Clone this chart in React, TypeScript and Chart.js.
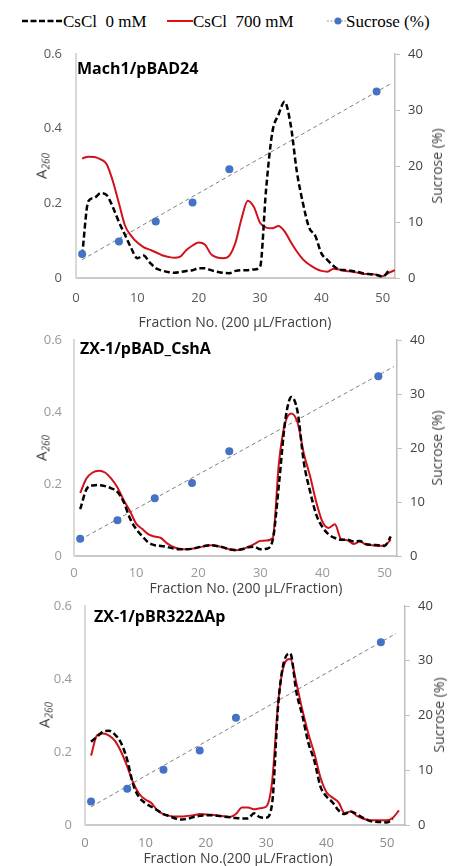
import React, { useEffect, useRef } from "react";
import { Chart, registerables } from "chart.js";

Chart.register(...registerables);

// ---------- DATA ----------
// A260 values per fraction (fraction 1, 2, 3, ...)
const p1Cs0 = [0.06, 0.205, 0.215, 0.227, 0.222, 0.19, 0.15, 0.115, 0.08, 0.053, 0.06, 0.042, 0.026, 0.02, 0.016, 0.014, 0.016, 0.019, 0.021, 0.026, 0.026, 0.021, 0.017, 0.014, 0.013, 0.019, 0.021, 0.021, 0.023, 0.03, 0.24, 0.39, 0.437, 0.472, 0.41, 0.285, 0.2, 0.135, 0.113, 0.066, 0.048, 0.032, 0.022, 0.021, 0.019, 0.016, 0.012, 0.01, 0.008, 0.004, 0.02];
const p1Cs700 = [0.32, 0.325, 0.324, 0.318, 0.305, 0.26, 0.2, 0.14, 0.113, 0.095, 0.083, 0.076, 0.069, 0.061, 0.057, 0.054, 0.057, 0.075, 0.087, 0.095, 0.09, 0.064, 0.055, 0.053, 0.06, 0.095, 0.16, 0.207, 0.19, 0.148, 0.135, 0.133, 0.139, 0.125, 0.097, 0.071, 0.05, 0.036, 0.026, 0.019, 0.017, 0.025, 0.022, 0.019, 0.017, 0.014, 0.011, 0.011, 0.009, 0.005, 0.014, 0.021];

const p2Cs0 = [0.13, 0.185, 0.196, 0.197, 0.194, 0.188, 0.178, 0.15, 0.105, 0.075, 0.055, 0.037, 0.03, 0.028, 0.025, 0.021, 0.019, 0.0185, 0.02, 0.024, 0.028, 0.03, 0.028, 0.024, 0.0185, 0.017, 0.0185, 0.024, 0.026, 0.0185, 0.02, 0.045, 0.2, 0.375, 0.442, 0.4, 0.26, 0.18, 0.115, 0.08, 0.06, 0.05, 0.045, 0.045, 0.04, 0.042, 0.033, 0.031, 0.03, 0.028, 0.054];
const p2Cs700 = [0.175, 0.215, 0.232, 0.237, 0.232, 0.215, 0.19, 0.155, 0.125, 0.09, 0.075, 0.06, 0.054, 0.05, 0.035, 0.025, 0.02, 0.0185, 0.02, 0.024, 0.027, 0.03, 0.028, 0.024, 0.019, 0.016, 0.018, 0.025, 0.033, 0.042, 0.043, 0.05, 0.26, 0.37, 0.396, 0.37, 0.285, 0.222, 0.15, 0.095, 0.078, 0.088, 0.047, 0.044, 0.033, 0.04, 0.032, 0.03, 0.028, 0.03, 0.045];

const p3Cs0 = [0.228, 0.242, 0.256, 0.258, 0.247, 0.224, 0.178, 0.11, 0.075, 0.06, 0.05, 0.04, 0.03, 0.024, 0.018, 0.015, 0.017, 0.022, 0.025, 0.027, 0.027, 0.025, 0.023, 0.021, 0.019, 0.018, 0.018, 0.032, 0.021, 0.02, 0.06, 0.33, 0.45, 0.47, 0.365, 0.3, 0.225, 0.175, 0.105, 0.078, 0.062, 0.04, 0.03, 0.037, 0.03, 0.02, 0.012, 0.009, 0.008, 0.007, 0.016];
const p3Cs700 = [0.19, 0.246, 0.251, 0.245, 0.23, 0.2, 0.16, 0.115, 0.085, 0.07, 0.06, 0.04, 0.03, 0.025, 0.023, 0.023, 0.025, 0.027, 0.03, 0.029, 0.028, 0.026, 0.024, 0.022, 0.03, 0.048, 0.048, 0.043, 0.046, 0.05, 0.12, 0.337, 0.44, 0.455, 0.39, 0.315, 0.25, 0.195, 0.13, 0.09, 0.075, 0.062, 0.033, 0.037, 0.025, 0.018, 0.014, 0.013, 0.013, 0.013, 0.02, 0.04];

// Sucrose (%) measured at fractions
const sucroseFractions = [1, 7, 13, 19, 25, 49];
const p1Sucrose = [4.3, 6.5, 10.1, 13.5, 19.4, 33.3];
const p2Sucrose = [3.2, 6.6, 10.7, 13.5, 19.4, 33.3];
const p3Sucrose = [4.3, 6.6, 10.1, 13.6, 19.6, 33.4];
// linear trendline span (fractions)
const trendSpan = [1, 51.5];

const panelTitles = ["Mach1/pBAD24", "ZX-1/pBAD_CshA", "ZX-1/pBR322ΔAp"];
const xTitles = ["Fraction No. (200 µL/Fraction)", "Fraction No. (200 µL/Fraction)", "Fraction No.(200 µL/Fraction)"];
const legendLabels = ["CsCl  0 mM", "CsCl  700 mM", "Sucrose (%)"];
const yLeftTicks = [0, 0.2, 0.4, 0.6];
const yRightTicks = [0, 10, 20, 30, 40];
const xTicks = [0, 10, 20, 30, 40, 50];

// ---------- LAYOUT ----------
const W = 454;
const FONT = "'Open Sans', 'Noto Sans', sans-serif";
const TOP_PAD = 26;

const panels = [
  { cs0: p1Cs0, cs700: p1Cs700, suc: p1Sucrose, canvasBottom: 314, left: 76, right: 395, top: 54, bottom: 278, xMax: 52,
    leftTickColor: "#595959", xTickColor: "#595959", leftPad: 14, xPad: 12,
    titleX: 77, titleY: 68, yTitle: [42, 166], sTitle: [437, 166], xTitle: [235, 322] },
  { cs0: p2Cs0, cs700: p2Cs700, suc: p2Sucrose, canvasBottom: 582, left: 74, right: 397, top: 340, bottom: 556, xMax: 52,
    leftTickColor: "#999999", xTickColor: "#999999", leftPad: 12, xPad: 9,
    titleX: 80, titleY: 348, yTitle: [42, 448], sTitle: [437, 448], xTitle: [246, 588] },
  { cs0: p3Cs0, cs700: p3Cs700, suc: p3Sucrose, canvasBottom: 856, left: 85, right: 405, top: 606, bottom: 825, xMax: 53,
    leftTickColor: "#999999", xTickColor: "#8c8c8c", leftPad: 13, xPad: 10,
    titleX: 94, titleY: 616, yTitle: [45, 715], sTitle: [439, 715], xTitle: [238, 858] },
];

function regression(xs: number[], ys: number[]) {
  const n = xs.length;
  const mx = xs.reduce((a, b) => a + b, 0) / n;
  const my = ys.reduce((a, b) => a + b, 0) / n;
  let sxy = 0, sxx = 0;
  for (let i = 0; i < n; i++) { sxy += (xs[i] - mx) * (ys[i] - my); sxx += (xs[i] - mx) ** 2; }
  const slope = sxy / sxx;
  return { slope, intercept: my - slope * mx };
}

function PanelChart({ p }: { p: any }) {
  const ref = useRef<HTMLCanvasElement | null>(null);
  const canvasTop = p.top - TOP_PAD;
  const canvasH = p.canvasBottom - canvasTop;
  useEffect(() => {
    if (!ref.current) return;
    const reg = regression(sucroseFractions, p.suc);
    const toXY = (arr: number[]) => arr.map((v, i) => ({ x: i + 1, y: v }));
    const chart = new Chart(ref.current, {
      type: "line",
      data: {
        datasets: [
          { label: legendLabels[2], data: sucroseFractions.map((f, i) => ({ x: f, y: p.suc[i] })), yAxisID: "y1", showLine: false,
            pointRadius: 4, pointBackgroundColor: "#4472c4", pointBorderColor: "#4472c4", pointBorderWidth: 0, order: 0 },
          { label: legendLabels[0], data: toXY(p.cs0), yAxisID: "y", borderColor: "#000000", borderWidth: 2.5, borderDash: [6, 3],
            pointRadius: 0, cubicInterpolationMode: "monotone", order: 1 },
          { label: legendLabels[1], data: toXY(p.cs700), yAxisID: "y", borderColor: "#d0121b", borderWidth: 2,
            pointRadius: 0, cubicInterpolationMode: "monotone", order: 2 },
          { label: "trend", data: trendSpan.map((x) => ({ x, y: reg.intercept + reg.slope * x })), yAxisID: "y1",
            borderColor: "#7f7f7f", borderWidth: 1, borderDash: [4, 3], pointRadius: 0, order: 3 },
        ],
      },
      options: {
        animation: false,
        responsive: false,
        maintainAspectRatio: false,
        events: [],
        layout: { padding: { top: TOP_PAD, left: 0, right: 0, bottom: 0 } },
        plugins: { legend: { display: false }, tooltip: { enabled: false } },
        scales: {
          x: {
            type: "linear", min: 0, max: p.xMax,
            afterBuildTicks: (s: any) => { s.ticks = xTicks.map((v) => ({ value: v })); },
            afterFit: (s: any) => { s.height = p.canvasBottom - p.bottom; },
            ticks: { color: p.xTickColor, font: { family: FONT, size: 13 }, padding: p.xPad, maxRotation: 0 },
            grid: { display: false, drawTicks: false },
            border: { display: true, color: "#c9c9c9", width: 2 },
          },
          y: {
            type: "linear", position: "left", min: 0, max: 0.6,
            afterBuildTicks: (s: any) => { s.ticks = yLeftTicks.map((v) => ({ value: v })); },
            afterFit: (s: any) => { s.width = p.left; },
            ticks: { color: p.leftTickColor, font: { family: FONT, size: 13 }, padding: p.leftPad,
              callback: (v: any) => (Number(v) === 0 ? "0" : Number(v).toFixed(1)) },
            grid: { display: false, drawTicks: false },
            border: { display: true, color: "#d9d9d9", width: 2 },
          },
          y1: {
            type: "linear", position: "right", min: 0, max: 40,
            afterBuildTicks: (s: any) => { s.ticks = yRightTicks.map((v) => ({ value: v })); },
            afterFit: (s: any) => { s.width = W - p.right; },
            ticks: { color: "#404040", font: { family: FONT, size: 13 }, padding: 8 },
            grid: { display: true, drawOnChartArea: false, drawTicks: true, tickLength: 5, color: "#bfbfbf", lineWidth: 1 },
            border: { display: true, color: "#bfbfbf", width: 1.5 },
          },
        },
      } as any,
    });
    return () => chart.destroy();
  }, [p]);
  return (
    <canvas ref={ref} width={W} height={canvasH}
      style={{ position: "absolute", left: 0, top: canvasTop, width: W, height: canvasH, display: "block" }} />
  );
}

const center = (x: number, y: number, rot = false): React.CSSProperties => ({
  position: "absolute", left: x, top: y, whiteSpace: "pre",
  transform: `translate(-50%, -50%)${rot ? " rotate(-90deg)" : ""}`,
  lineHeight: 1, color: "#404040", fontFamily: FONT,
});

export default function App() {
  return (
    <div style={{ position: "absolute", left: 0, top: 0, width: W, height: 866, background: "#ffffff", overflow: "hidden" }}>
      {/* legend */}
      <div style={{ position: "absolute", left: 0, top: 0, width: W, height: 40, fontFamily: "'Liberation Serif', 'Times New Roman', serif", fontSize: 17, color: "#000" }}>
        <svg width={W} height={40} style={{ position: "absolute", left: 0, top: 0 }}>
          <line x1={22} y1={21} x2={62} y2={21} stroke="#000" strokeWidth={2.5} strokeDasharray="6 2.5" />
          <line x1={167} y1={21} x2={193} y2={21} stroke="#e01010" strokeWidth={2} />
          <line x1={327} y1={21} x2={346} y2={21} stroke="#9a9a9a" strokeWidth={1} strokeDasharray="2 1.5" />
          <circle cx={338} cy={21} r={3.5} fill="#4472c4" />
        </svg>
        <span style={{ position: "absolute", left: 63, top: 21, transform: "translateY(-50%)", whiteSpace: "pre", lineHeight: 1 }}>{legendLabels[0]}</span>
        <span style={{ position: "absolute", left: 193, top: 21, transform: "translateY(-50%)", whiteSpace: "pre", lineHeight: 1 }}>{legendLabels[1]}</span>
        <span style={{ position: "absolute", left: 346, top: 21, transform: "translateY(-50%)", whiteSpace: "pre", lineHeight: 1 }}>{legendLabels[2]}</span>
      </div>
      {panels.map((p, i) => (
        <React.Fragment key={i}>
          <PanelChart p={p} />
          <div style={{ position: "absolute", left: p.titleX, top: p.titleY, transform: "translateY(-50%)", fontFamily: FONT,
            fontWeight: 700, fontSize: 16, color: "#000", lineHeight: 1, whiteSpace: "pre" }}>{panelTitles[i]}</div>
          <div style={{ ...center(p.yTitle[0], p.yTitle[1], true), fontSize: 15 }}>
            A<span style={{ fontSize: 10, fontStyle: "italic", verticalAlign: "-3px" }}>260</span>
          </div>
          <div style={{ ...center(p.sTitle[0], p.sTitle[1], true), fontSize: 14 }}>Sucrose (%)</div>
          <div style={{ ...center(p.xTitle[0], p.xTitle[1]), fontSize: 14 }}>{xTitles[i]}</div>
        </React.Fragment>
      ))}
    </div>
  );
}
